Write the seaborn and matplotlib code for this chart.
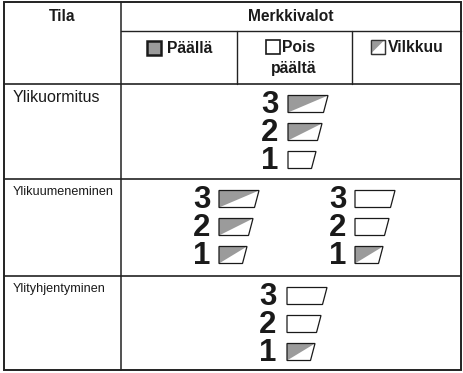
import matplotlib
matplotlib.use("Agg")
import matplotlib.pyplot as plt
from matplotlib.patches import Polygon, Rectangle
import seaborn as sns

# === Table content ===
header_left = "Tila"
header_right = "Merkkivalot"
legend_labels = ["Päällä", "Pois\npäältä", "Vilkkuu"]
legend_states = ["on", "off", "flash"]
states = ["Ylikuormitus", "Ylikuumeneminen", "Ylityhjentyminen"]
levels = [3, 2, 1]
# LED state per level (3, 2, 1) for each row; the overheat row shows two alternating frames
overload = ["flash", "flash", "off"]
overheat_a = ["flash", "flash", "flash"]
overheat_b = ["off", "off", "flash"]
discharge = ["off", "off", "flash"]
row_patterns = [[overload], [overheat_a, overheat_b], [discharge]]

# === Style ===
sns.set_theme(style="white")
plt.rcParams["font.family"] = ["Liberation Sans", "DejaVu Sans"]
GRAY = "#9b9b9b"
INK = "#1a1a1a"
W, H = 463, 373

fig = plt.figure(figsize=(W / 100, H / 100), dpi=100)
ax = fig.add_axes([0, 0, 1, 1])
ax.set_xlim(0, W)
ax.set_ylim(H, 0)
ax.axis("off")

# grid geometry (pixel units)
x_left, x_div, x_right = 4, 121, 461
sub_cols = [121, 237, 352, 461]
y_top, y_h1, y_h2 = 2, 31, 84
row_edges = [84, 179, 276, 370]

# outer frame and lines
ax.add_patch(Rectangle((x_left, y_top), x_right - x_left, row_edges[-1] - y_top,
                       fill=False, ec="#222222", lw=1.4))
ax.plot([x_div, x_div], [y_top, row_edges[-1]], color="#222222", lw=1.1)
ax.plot([x_div, x_right], [y_h1, y_h1], color="#222222", lw=1.0)
for xs in sub_cols[1:-1]:
    ax.plot([xs, xs], [y_h1, y_h2], color="#222222", lw=1.0)
for ye in row_edges[:-1]:
    ax.plot([x_left, x_right], [ye, ye], color="#222222", lw=1.2)

# header text
ax.text((x_left + x_div) / 2, 16.5, header_left, ha="center", va="center",
        fontsize=11.2, fontweight="bold", color=INK)
ax.text((x_div + x_right) / 2, 16.5, header_right, ha="center", va="center",
        fontsize=11.2, fontweight="bold", color=INK)


def legend_box(x, y, s, kind):
    if kind == "on":
        ax.add_patch(Rectangle((x, y), s, s, fc=GRAY, ec=INK, lw=1.8))
    elif kind == "off":
        ax.add_patch(Rectangle((x, y), s, s, fc="white", ec=INK, lw=1.2))
    else:
        ax.add_patch(Rectangle((x, y), s, s, fc="white", ec="#333333", lw=0.9))
        ax.add_patch(Polygon([(x, y), (x + s, y), (x, y + s)], closed=True,
                             fc=GRAY, ec="none"))
        ax.add_patch(Rectangle((x, y), s, s, fill=False, ec="#333333", lw=0.9))


legend_pos = [(147, 41, 167, 48.5), (266, 40, 282, 47.5), (371, 40, 388, 47.5)]
for lab, kind, (bx, by, tx, ty) in zip(legend_labels, legend_states, legend_pos):
    legend_box(bx, by, 13.5, kind)
    if "\n" in lab:
        first, second = lab.split("\n")
        ax.text(tx, ty, first, ha="left", va="center", fontsize=11.3,
                fontweight="bold", color=INK)
        ax.text(tx + 12, ty + 21.5, second, ha="center", va="center", fontsize=11.3,
                fontweight="bold", color=INK)
    else:
        ax.text(tx, ty, lab, ha="left", va="center", fontsize=11.3,
                fontweight="bold", color=INK)


def led(x, yc, width, kind, h=17, slant=4.5):
    yt, yb = yc - h / 2, yc + h / 2
    pts = [(x, yt), (x + width, yt), (x + width - slant, yb), (x, yb)]
    if kind == "flash":
        ax.add_patch(Polygon([(x, yt), (x + width, yt), (x, yb)], closed=True,
                             fc=GRAY, ec="none"))
    ax.add_patch(Polygon(pts, closed=True, fill=False, ec=INK, lw=0.9))


led_widths = {3: 40, 2: 34, 1: 28}
# (digit centre x, led left x) for each frame in a row
row_frames = [[(270, 288)], [(202, 219), (338, 355)], [(268, 287)]]
row_label_size = [11.5, 9.1, 9.1]
row_label_dy = [14, 13, 13]

for i, state in enumerate(states):
    top = row_edges[i]
    ax.text(13, top + row_label_dy[i], state, ha="left", va="center",
            fontsize=row_label_size[i], color=INK)
    for pattern, (dx, lx) in zip(row_patterns[i], row_frames[i]):
        for j, (lvl, kind) in enumerate(zip(levels, pattern)):
            yc = top + 20 + j * 28
            ax.text(dx, yc + 1, str(lvl), ha="center", va="center",
                    fontsize=22.5, fontweight="bold", color=INK)
            led(lx, yc, led_widths[lvl], kind)

fig.savefig("out.png", dpi=100)
